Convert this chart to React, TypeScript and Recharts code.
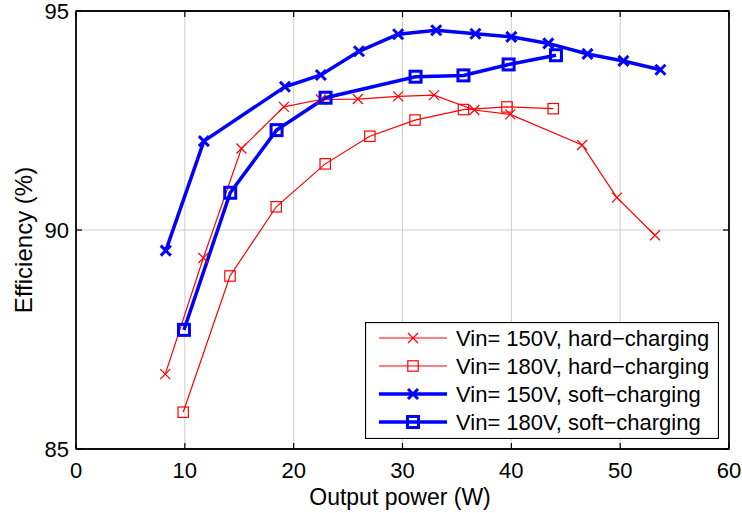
import { LineChart, Line, XAxis, YAxis, CartesianGrid, ReferenceArea } from "recharts";

const xTicks = [0, 10, 20, 30, 40, 50, 60];
const yTicks = [85, 90, 95];

const hard150X = [8.2, 11.7, 15.2, 19.1, 22.5, 25.9, 29.6, 32.9, 36.6, 39.9, 46.5, 49.7, 53.2];
const hard150Y = [86.71, 89.36, 91.86, 92.81, 92.98, 92.99, 93.05, 93.08, 92.74, 92.64, 91.94, 90.74, 89.88];

const hard180X = [9.85, 14.15, 18.4, 22.9, 27.0, 31.15, 35.6, 39.6, 43.85];
const hard180Y = [85.84, 88.95, 90.53, 91.51, 92.14, 92.51, 92.75, 92.81, 92.77];

const soft150X = [8.25, 11.75, 19.2, 22.5, 26.0, 29.6, 33.1, 36.7, 40.0, 43.4, 47.0, 50.3, 53.7];
const soft150Y = [89.53, 92.03, 93.27, 93.54, 94.08, 94.47, 94.56, 94.48, 94.41, 94.26, 94.02, 93.86, 93.66];

const soft180X = [9.92, 14.17, 18.43, 22.93, 31.2, 35.6, 39.75, 44.1];
const soft180Y = [87.72, 90.85, 92.28, 93.02, 93.5, 93.53, 93.78, 93.99];

const zip = (xs: number[], ys: number[]) => xs.map((x, i) => ({ x, y: ys[i] }));

const FONT = "'Liberation Sans', Arial, Helvetica, sans-serif";
const RED = "#ff0000";
const BLUE = "#0000ff";

const series = [
  { name: "Vin= 150V, hard\u2212charging", data: zip(hard150X, hard150Y), color: RED, width: 1.2, marker: "x", ms: 5, mw: 1.2 },
  { name: "Vin= 180V, hard\u2212charging", data: zip(hard180X, hard180Y), color: RED, width: 1.2, marker: "s", ms: 5.2, mw: 1.2 },
  { name: "Vin= 150V, soft\u2212charging", data: zip(soft150X, soft150Y), color: BLUE, width: 3.5, marker: "x", ms: 5, mw: 3 },
  { name: "Vin= 180V, soft\u2212charging", data: zip(soft180X, soft180Y), color: BLUE, width: 3.5, marker: "s", ms: 5.5, mw: 3 },
];

function Marker({ cx, cy, type, size, color, sw }: any) {
  if (type === "x") {
    const s = size;
    return (
      <path
        d={`M${cx - s},${cy - s}L${cx + s},${cy + s}M${cx - s},${cy + s}L${cx + s},${cy - s}`}
        stroke={color}
        strokeWidth={sw}
        fill="none"
      />
    );
  }
  return (
    <rect x={cx - size} y={cy - size} width={size * 2} height={size * 2} stroke={color} strokeWidth={sw} fill="none" />
  );
}

const BottomTick = ({ x, y, payload }: any) => (
  <g>
    <line x1={x} x2={x} y1={y} y2={y - 6} stroke="#000" strokeWidth={1.2} />
    <text x={x} y={y + 29} textAnchor="middle" fontSize={22} fontFamily={FONT} fill="#000">
      {payload.value}
    </text>
  </g>
);

const TopTick = ({ x, y }: any) => (
  <line x1={x} x2={x} y1={y} y2={y + 6} stroke="#000" strokeWidth={1.2} />
);

const LeftTick = ({ x, y, payload }: any) => (
  <g>
    <line x1={x} x2={x + 6} y1={y} y2={y} stroke="#000" strokeWidth={1.2} />
    <text x={x - 7} y={y + 8} textAnchor="end" fontSize={22} fontFamily={FONT} fill="#000">
      {payload.value}
    </text>
  </g>
);

const RightTick = ({ x, y }: any) => (
  <line x1={x} x2={x - 6} y1={y} y2={y} stroke="#000" strokeWidth={1.2} />
);

function LegendBox() {
  return (
    <svg width={354} height={117} style={{ display: "block" }}>
      <rect x={0.5} y={0.5} width={353} height={116} fill="#fff" stroke="#000" strokeWidth={1.2} />
      {series.map((s, i) => {
        const cy = 16 + i * 28;
        return (
          <g key={s.name}>
            <line x1={14} x2={82} y1={cy} y2={cy} stroke={s.color} strokeWidth={s.width} />
            <Marker cx={48} cy={cy} type={s.marker} size={s.ms} color={s.color} sw={s.mw} />
            <text x={91} y={cy + 8} fontSize={22} fontFamily={FONT} fill="#000">
              {s.name}
            </text>
          </g>
        );
      })}
    </svg>
  );
}

export default function App() {
  return (
    <div style={{ position: "absolute", left: 0, top: 0, width: 742, height: 513, background: "#fff" }}>
      <LineChart width={742} height={513} margin={{ top: 10, right: 12, bottom: 0, left: 0 }}>
        <CartesianGrid stroke="#cccccc" strokeWidth={1} />
        <XAxis
          type="number"
          dataKey="x"
          domain={[0, 60]}
          ticks={xTicks}
          height={64}
          tickSize={0}
          tickMargin={0}
          tick={<BottomTick />}
          axisLine={{ stroke: "#000", strokeWidth: 1.3 }}
          tickLine={false}
          label={{
            content: () => (
              <text x={400} y={505} textAnchor="middle" fontSize={23} fontFamily={FONT} fill="#000">
                Output power (W)
              </text>
            ),
          }}
        />
        <XAxis
          xAxisId="top"
          orientation="top"
          type="number"
          dataKey="x"
          domain={[0, 60]}
          allowDataOverflow
          ticks={xTicks}
          height={1}
          tickSize={0}
          tickMargin={0}
          tick={<TopTick />}
          axisLine={{ stroke: "#000", strokeWidth: 1.3 }}
          tickLine={false}
        />
        <YAxis
          type="number"
          domain={[85, 95]}
          ticks={yTicks}
          width={76}
          tickSize={0}
          tickMargin={0}
          tick={<LeftTick />}
          axisLine={{ stroke: "#000", strokeWidth: 1.3 }}
          tickLine={false}
          label={{
            content: () => (
              <text
                x={32}
                y={240}
                transform="rotate(-90 32 240)"
                textAnchor="middle"
                fontSize={24}
                fontFamily={FONT}
                fill="#000"
              >
                Efficiency (%)
              </text>
            ),
          }}
        />
        <YAxis
          yAxisId="right"
          orientation="right"
          type="number"
          dataKey="y"
          domain={[85, 95]}
          allowDataOverflow
          ticks={yTicks}
          width={1}
          tickSize={0}
          tickMargin={0}
          tick={<RightTick />}
          axisLine={{ stroke: "#000", strokeWidth: 1.3 }}
          tickLine={false}
        />
        <ReferenceArea x1={0} x2={60} y1={85} y2={95} fill="none" stroke="#000" strokeWidth={1.3} />
        {series.map((s) => (
          <Line
            key={s.name}
            data={s.data}
            dataKey="y"
            name={s.name}
            type="linear"
            stroke={s.color}
            strokeWidth={s.width}
            isAnimationActive={false}
            dot={(p: any) => (
              <Marker key={p.key ?? `${s.name}-${p.index}`} cx={p.cx} cy={p.cy} type={s.marker} size={s.ms} color={s.color} sw={s.mw} />
            )}
            activeDot={false}
          />
        ))}
      </LineChart>
      <div style={{ position: "absolute", left: 365, top: 322 }}>
        <LegendBox />
      </div>
    </div>
  );
}
